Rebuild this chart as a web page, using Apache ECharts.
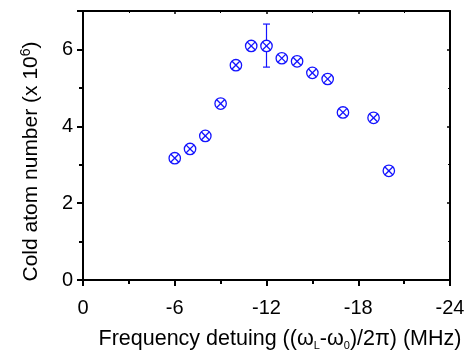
<!DOCTYPE html>
<html><head><meta charset="utf-8">
<script src="https://cdn.jsdelivr.net/npm/echarts@6/dist/echarts.min.js"></script>
<style>html,body{margin:0;padding:0;background:#fff}#c{width:469px;height:358px}</style>
</head><body><div id="c"></div>
<script>
const detuning = [-6, -7, -8, -9, -10, -11, -12, -13, -14, -15, -16, -17, -19, -20];
const atomNumber = [3.17, 3.41, 3.75, 4.59, 5.59, 6.09, 6.09, 5.77, 5.69, 5.39, 5.23, 4.36, 4.22, 2.84];
const errX = [-12];
const errLow = [5.54];
const errHigh = [6.66];
const xTicks = [0, -6, -12, -18, -24];
const yTicks = [0, 2, 4, 6];

const blue = '#1414ff';
const font = 'Liberation Sans, Arial, sans-serif';
const chart = echarts.init(document.getElementById('c'));
const axisLine = {lineStyle:{color:'#000', width:2}};
chart.setOption({
  animation:false,
  grid:{left:83, right:19, top:11, bottom:78},
  xAxis:[{
    type:'value', inverse:true, min:-24, max:0, interval:6,
    axisLine:{onZero:false, ...axisLine},
    axisTick:{length:6, lineStyle:{width:2,color:'#000'}},
    minorTick:{show:true, splitNumber:2, length:4, lineStyle:{width:2,color:'#000'}},
    splitLine:{show:false},
    axisLabel:{color:'#000', fontSize:20, fontFamily:font, margin:18,
      formatter: v => xTicks.includes(v) ? String(v) : ''},
    name:'Frequency detuing ((ω{sub|L}-ω{sub|0})/2π) (MHz)',
    nameLocation:'middle', nameGap:48,
    nameTextStyle:{color:'#000', fontSize:21.5, fontFamily:font, padding:[0,0,0,27],
      rich:{sub:{fontSize:11, fontFamily:font, color:'#000', padding:[12,0,0,0]}}}
  },{
    type:'value', inverse:true, min:-24, max:0, interval:6, position:'top',
    axisLine:{onZero:false, ...axisLine},
    axisTick:{inside:true, length:3, lineStyle:{width:1.5,color:'#000'}},
    minorTick:{show:true, splitNumber:2, length:2},
    axisLabel:{show:false}, splitLine:{show:false}
  }],
  yAxis:[{
    type:'value', min:0, max:7, interval:2,
    axisLine:{onZero:false, show:true, ...axisLine},
    axisTick:{show:true, length:6, lineStyle:{width:2,color:'#000'}},
    minorTick:{show:true, splitNumber:2, length:4, lineStyle:{width:2,color:'#000'}},
    splitLine:{show:false},
    axisLabel:{color:'#000', fontSize:20, fontFamily:font, margin:10, showMaxLabel:false,
      formatter: v => yTicks.includes(v) ? String(v) : ''},
    name:'Cold atom number (x 10{sup|6})',
    nameLocation:'middle', nameGap:39, nameRotate:90,
    nameTextStyle:{color:'#000', fontSize:21, fontFamily:font, padding:[0,32,0,0],
      rich:{sup:{fontSize:14, fontFamily:font, color:'#000', padding:[0,0,11,0]}}}
  },{
    type:'value', min:0, max:7, interval:2, position:'right',
    axisLine:{onZero:false, show:true, ...axisLine},
    axisTick:{show:true, inside:true, length:3, lineStyle:{width:1.5,color:'#000'}},
    minorTick:{show:true, splitNumber:2, length:2},
    axisLabel:{show:false}, splitLine:{show:false}
  }],
  series:[{
    type:'custom',
    data: errX.map((x,i)=>[x, errLow[i], errHigh[i]]),
    renderItem:(params, api)=>{
      const lo = api.coord([api.value(0), api.value(1)]);
      const hi = api.coord([api.value(0), api.value(2)]);
      const w = 3.5;
      const st = {stroke:blue, lineWidth:1.2};
      return {type:'group', children:[
        {type:'line', shape:{x1:lo[0],y1:lo[1],x2:hi[0],y2:hi[1]}, style:st},
        {type:'line', shape:{x1:lo[0]-w,y1:lo[1],x2:lo[0]+w,y2:lo[1]}, style:st},
        {type:'line', shape:{x1:hi[0]-w,y1:hi[1],x2:hi[0]+w,y2:hi[1]}, style:st}
      ]};
    }
  },{
    type:'custom',
    data: detuning.map((x,i)=>[x, atomNumber[i]]),
    renderItem:(params, api)=>{
      const p = api.coord([api.value(0), api.value(1)]);
      const r = 5.7, d = r*0.72;
      const st = {stroke:blue, lineWidth:1.3, fill:'none'};
      return {type:'group', children:[
        {type:'circle', shape:{cx:p[0], cy:p[1], r:r}, style:{stroke:blue, lineWidth:1.3, fill:'#fff'}},
        {type:'line', shape:{x1:p[0]-d,y1:p[1]-d,x2:p[0]+d,y2:p[1]+d}, style:st},
        {type:'line', shape:{x1:p[0]+d,y1:p[1]-d,x2:p[0]-d,y2:p[1]+d}, style:st}
      ]};
    }
  }]
});
</script></body></html>
